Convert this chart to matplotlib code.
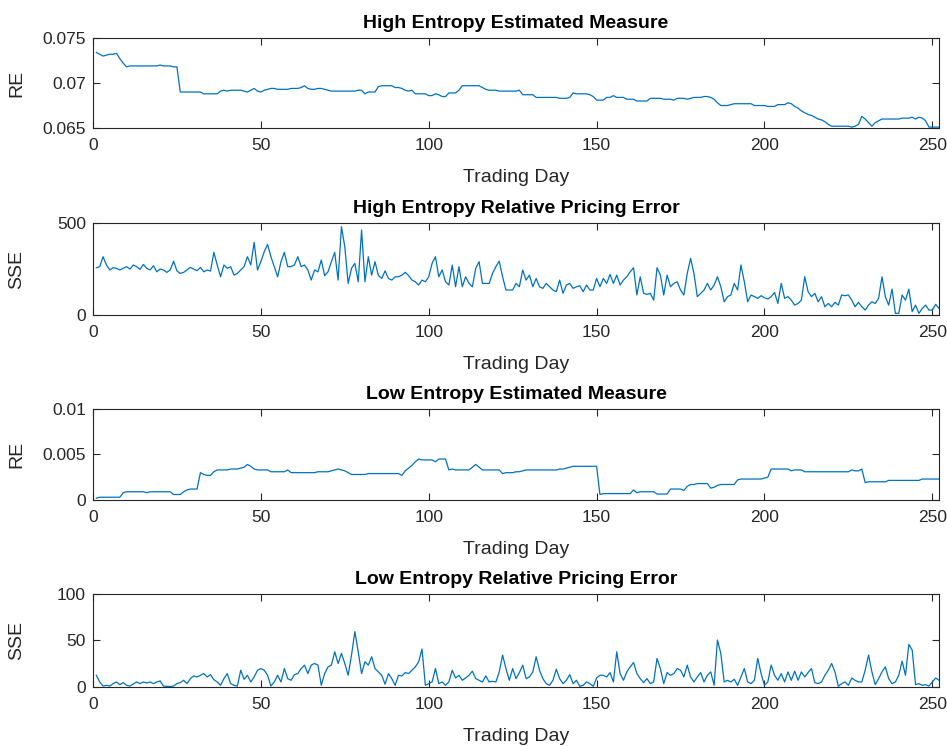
import numpy as np
import matplotlib.pyplot as plt

# High entropy: estimated measure (relative entropy) per trading day
he_re = [
    0.0734, 0.0732, 0.0730, 0.0731, 0.0732, 0.0732, 0.0733, 0.0727, 0.0722, 0.0718,
    0.0719, 0.0719, 0.0719, 0.0719, 0.0719, 0.0719, 0.0719, 0.0719, 0.0719, 0.0720,
    0.0719, 0.0719, 0.0719, 0.0718, 0.0718, 0.0690, 0.0690, 0.0690, 0.0690, 0.0690,
    0.0690, 0.0690, 0.0688, 0.0688, 0.0688, 0.0688, 0.0688, 0.0691, 0.0692, 0.0691,
    0.0692, 0.0692, 0.0692, 0.0692, 0.0691, 0.0690, 0.0692, 0.0694, 0.0691, 0.0690,
    0.0692, 0.0693, 0.0694, 0.0694, 0.0693, 0.0693, 0.0693, 0.0693, 0.0694, 0.0694,
    0.0694, 0.0695, 0.0697, 0.0694, 0.0693, 0.0693, 0.0694, 0.0694, 0.0693, 0.0692,
    0.0691, 0.0691, 0.0691, 0.0691, 0.0691, 0.0691, 0.0691, 0.0691, 0.0692, 0.0692,
    0.0688, 0.0690, 0.0690, 0.0690, 0.0696, 0.0697, 0.0697, 0.0697, 0.0697, 0.0695,
    0.0695, 0.0694, 0.0692, 0.0691, 0.0692, 0.0688, 0.0688, 0.0688, 0.0688, 0.0686,
    0.0686, 0.0688, 0.0687, 0.0685, 0.0685, 0.0689, 0.0689, 0.0689, 0.0692, 0.0697,
    0.0697, 0.0697, 0.0697, 0.0697, 0.0697, 0.0695, 0.0693, 0.0692, 0.0692, 0.0692,
    0.0691, 0.0691, 0.0691, 0.0691, 0.0691, 0.0691, 0.0692, 0.0687, 0.0687, 0.0687,
    0.0687, 0.0684, 0.0684, 0.0684, 0.0684, 0.0684, 0.0684, 0.0684, 0.0683, 0.0683,
    0.0683, 0.0684, 0.0689, 0.0688, 0.0688, 0.0688, 0.0688, 0.0687, 0.0685, 0.0681,
    0.0681, 0.0681, 0.0684, 0.0684, 0.0686, 0.0684, 0.0684, 0.0684, 0.0682, 0.0682,
    0.0682, 0.0680, 0.0680, 0.0680, 0.0680, 0.0683, 0.0683, 0.0683, 0.0683, 0.0682,
    0.0682, 0.0682, 0.0681, 0.0683, 0.0683, 0.0683, 0.0682, 0.0683, 0.0684, 0.0684,
    0.0684, 0.0685, 0.0685, 0.0684, 0.0682, 0.0678, 0.0675, 0.0675, 0.0675, 0.0676,
    0.0677, 0.0677, 0.0677, 0.0677, 0.0677, 0.0677, 0.0675, 0.0675, 0.0675, 0.0675,
    0.0674, 0.0674, 0.0674, 0.0676, 0.0676, 0.0676, 0.0678, 0.0677, 0.0674, 0.0672,
    0.0669, 0.0667, 0.0665, 0.0664, 0.0662, 0.0660, 0.0659, 0.0657, 0.0654, 0.0652,
    0.0652, 0.0652, 0.0652, 0.0652, 0.0652, 0.0651, 0.0652, 0.0654, 0.0663, 0.0660,
    0.0656, 0.0652, 0.0656, 0.0658, 0.0660, 0.0660, 0.0660, 0.0660, 0.0660, 0.0660,
    0.0661, 0.0661, 0.0661, 0.0662, 0.0660, 0.0662, 0.0661, 0.0658, 0.0651, 0.0651,
    0.0651, 0.0651,
]

# High entropy: relative pricing error (SSE)
he_sse = [
    257, 263, 317, 272, 245, 257, 254, 245, 254, 263,
    250, 272, 263, 248, 275, 254, 245, 268, 235, 250,
    245, 232, 245, 293, 240, 226, 232, 245, 259, 250,
    241, 259, 235, 245, 239, 341, 272, 208, 272, 254,
    263, 217, 226, 245, 263, 317, 272, 395, 245, 290,
    344, 384, 317, 263, 208, 290, 341, 263, 263, 272,
    317, 263, 272, 245, 190, 245, 235, 299, 214, 235,
    290, 341, 190, 480, 371, 172, 254, 281, 181, 462,
    181, 317, 217, 290, 215, 199, 240, 199, 190, 208,
    208, 217, 232, 214, 190, 181, 163, 190, 181, 208,
    281, 317, 208, 245, 181, 163, 272, 154, 263, 154,
    208, 172, 154, 254, 290, 172, 172, 172, 226, 263,
    293, 208, 136, 136, 136, 172, 154, 245, 190, 217,
    154, 199, 154, 145, 172, 154, 136, 127, 190, 118,
    163, 172, 145, 154, 159, 127, 163, 136, 136, 199,
    154, 199, 172, 221, 172, 217, 163, 190, 208, 235,
    257, 109, 208, 118, 112, 118, 81, 257, 217, 109,
    217, 154, 172, 181, 136, 109, 226, 308, 226, 100,
    118, 136, 172, 136, 163, 208, 154, 72, 100, 109,
    172, 136, 272, 181, 72, 109, 100, 91, 105, 94,
    87, 100, 123, 63, 172, 91, 100, 81, 54, 63,
    81, 208, 127, 100, 118, 72, 100, 45, 63, 45,
    69, 54, 109, 105, 109, 81, 45, 69, 45, 27,
    54, 72, 63, 91, 208, 100, 54, 141, 9, 9,
    109, 81, 141, 18, 54, 9, 36, 54, 27, 27,
    58, 36,
]

# Low entropy: estimated measure (relative entropy)
le_re = [
    0.0002, 0.0003, 0.0003, 0.0003, 0.0003, 0.0003, 0.0003, 0.0003, 0.0008, 0.0009,
    0.0009, 0.0009, 0.0009, 0.0009, 0.0009, 0.0008, 0.0009, 0.0009, 0.0009, 0.0009,
    0.0009, 0.0009, 0.0009, 0.0006, 0.0006, 0.0006, 0.0009, 0.0011, 0.0012, 0.0012,
    0.0012, 0.0030, 0.0028, 0.0027, 0.0027, 0.0031, 0.0033, 0.0033, 0.0033, 0.0033,
    0.0034, 0.0034, 0.0034, 0.0035, 0.0036, 0.0039, 0.0037, 0.0034, 0.0033, 0.0033,
    0.0033, 0.0033, 0.0031, 0.0031, 0.0031, 0.0031, 0.0031, 0.0033, 0.0030, 0.0030,
    0.0030, 0.0030, 0.0030, 0.0030, 0.0030, 0.0030, 0.0031, 0.0031, 0.0031, 0.0031,
    0.0032, 0.0033, 0.0034, 0.0033, 0.0032, 0.0030, 0.0028, 0.0028, 0.0028, 0.0028,
    0.0028, 0.0029, 0.0029, 0.0029, 0.0029, 0.0029, 0.0029, 0.0029, 0.0029, 0.0029,
    0.0029, 0.0027, 0.0032, 0.0035, 0.0038, 0.0042, 0.0045, 0.0044, 0.0044, 0.0044,
    0.0044, 0.0042, 0.0045, 0.0045, 0.0045, 0.0033, 0.0034, 0.0033, 0.0033, 0.0033,
    0.0033, 0.0033, 0.0036, 0.0039, 0.0036, 0.0033, 0.0033, 0.0033, 0.0033, 0.0033,
    0.0033, 0.0029, 0.0030, 0.0030, 0.0030, 0.0031, 0.0031, 0.0032, 0.0033, 0.0033,
    0.0033, 0.0033, 0.0033, 0.0033, 0.0033, 0.0033, 0.0033, 0.0033, 0.0034, 0.0034,
    0.0035, 0.0036, 0.0037, 0.0037, 0.0037, 0.0037, 0.0037, 0.0037, 0.0037, 0.0037,
    0.0006, 0.0007, 0.0007, 0.0007, 0.0007, 0.0007, 0.0007, 0.0007, 0.0007, 0.0007,
    0.0011, 0.0008, 0.0009, 0.0009, 0.0009, 0.0009, 0.0009, 0.00065, 0.00065, 0.00065,
    0.00065, 0.0012, 0.0012, 0.0012, 0.0012, 0.00105, 0.0015, 0.0017, 0.0017, 0.0018,
    0.0018, 0.0018, 0.0018, 0.0013, 0.0014, 0.0016, 0.0017, 0.0017, 0.0017, 0.0017,
    0.0017, 0.0022, 0.0023, 0.0023, 0.0023, 0.0023, 0.0023, 0.0023, 0.0023, 0.0024,
    0.0025, 0.0034, 0.0034, 0.0034, 0.0034, 0.0034, 0.0034, 0.0032, 0.0033, 0.0033,
    0.0033, 0.0031, 0.0031, 0.0031, 0.0031, 0.0031, 0.0031, 0.0031, 0.0031, 0.0031,
    0.0031, 0.0031, 0.0031, 0.0031, 0.0031, 0.0033, 0.0032, 0.0032, 0.0034, 0.0019,
    0.0020, 0.0020, 0.0020, 0.0020, 0.0020, 0.0020, 0.00215, 0.00215, 0.00215, 0.00215,
    0.00215, 0.00215, 0.00215, 0.00215, 0.00215, 0.00215, 0.0023, 0.0023, 0.0023, 0.0023,
    0.0023, 0.0023,
]

# Low entropy: relative pricing error (SSE)
le_sse = [
    12.6, 5.4, 1.0, 1.8, 1.0, 3.6, 5.4, 2.5, 4.7, 1.8,
    1.0, 3.2, 5.4, 3.6, 5.4, 4.3, 5.4, 3.6, 5.4, 6.5,
    1.0, 0.7, 0.5, 1.0, 3.6, 4.7, 7.2, 3.6, 9.0, 11.9,
    10.8, 12.6, 14.4, 10.8, 13.3, 7.9, 5.4, 1.8, 9.0, 14.4,
    3.6, 1.8, 1.0, 18.0, 8.3, 12.6, 5.4, 10.8, 18.0, 19.8,
    18.0, 12.6, 1.0, 5.4, 12.6, 5.4, 19.8, 9.0, 7.2, 13.3,
    14.4, 19.8, 23.5, 14.4, 23.5, 25.3, 23.5, 1.8, 14.4, 21.6,
    23.5, 37.9, 25.3, 36.1, 25.3, 12.6, 34.3, 59.5, 37.9, 14.4,
    27.1, 23.5, 32.5, 19.8, 16.2, 12.6, 3.0, 14.4, 9.0, 1.8,
    12.6, 11.9, 15.5, 14.4, 18.0, 21.6, 27.1, 40.8, 1.8, 3.6,
    5.4, 19.8, 3.6, 5.4, 1.8, 5.4, 18.0, 9.7, 12.6, 7.2,
    9.7, 12.6, 17.0, 9.0, 7.2, 5.4, 11.9, 5.4, 6.1, 5.4,
    16.2, 34.3, 19.8, 7.2, 19.8, 9.0, 15.5, 23.5, 9.0, 10.8,
    16.2, 32.5, 18.0, 9.0, 3.6, 1.8, 7.2, 19.1, 9.0, 3.6,
    7.2, 13.3, 3.6, 7.2, 0.7, 1.8, 5.4, 3.6, 0.7, 9.7,
    12.6, 12.6, 10.8, 15.5, 5.4, 37.9, 14.4, 7.2, 16.2, 21.6,
    26.3, 14.4, 9.0, 4.7, 9.0, 3.6, 5.4, 30.7, 19.8, 3.6,
    15.5, 12.6, 14.4, 19.8, 18.0, 10.8, 23.5, 10.8, 5.4, 10.8,
    15.5, 5.4, 12.6, 16.2, 1.8, 50.5, 36.1, 5.4, 7.2, 5.4,
    8.3, 1.8, 10.8, 19.8, 5.4, 3.6, 7.2, 30.7, 14.4, 1.8,
    5.4, 23.5, 12.6, 7.2, 14.4, 5.4, 16.2, 7.2, 17.0, 7.2,
    16.2, 10.8, 15.5, 19.8, 4.7, 3.6, 5.4, 12.6, 18.0, 25.3,
    16.2, 0.7, 3.6, 5.4, 1.8, 9.7, 7.2, 5.4, 5.4, 18.0,
    34.3, 16.2, 2.5, 9.0, 16.2, 21.6, 9.0, 3.6, 5.4, 12.6,
    27.8, 12.6, 45.8, 39.7, 2.5, 3.6, 1.8, 2.5, 1.0, 5.4,
    9.7, 7.2,
]

titles = ["High Entropy Estimated Measure", "High Entropy Relative Pricing Error",
          "Low Entropy Estimated Measure", "Low Entropy Relative Pricing Error"]
ylabels = ["RE", "SSE", "RE", "SSE"]
yticks = [[0.065, 0.07, 0.075], [0, 500], [0, 0.005, 0.01], [0, 50, 100]]
ytick_labels = [["0.065", "0.07", "0.075"], ["0", "500"], ["0", "0.005", "0.01"], ["0", "50", "100"]]
xticks = [0, 50, 100, 150, 200, 250]
series = [he_re, he_sse, le_re, le_sse]

plt.rcParams['font.family'] = ['Liberation Sans', 'DejaVu Sans']

fig = plt.figure(figsize=(9.47, 7.46), dpi=100)
# axes boxes in figure fraction: left, bottom, width, height
boxes = [[0.0982, 0.8284, 0.8934, 0.1206],
         [0.0982, 0.5777, 0.8934, 0.1233],
         [0.0982, 0.3298, 0.8934, 0.1220],
         [0.0982, 0.0791, 0.8934, 0.1247]]

grey = "#262626"
for i in range(4):
    ax = fig.add_axes(boxes[i])
    y = series[i]
    x = np.arange(1, len(y) + 1)
    ax.plot(x, y, color="#0072BD", linewidth=0.9)
    ax.set_xlim(0, 252)
    ax.set_ylim(yticks[i][0], yticks[i][-1])
    ax.set_xticks(xticks)
    ax.set_yticks(yticks[i])
    ax.set_yticklabels(ytick_labels[i])
    ax.tick_params(direction="in", top=True, right=True, length=5, width=0.8,
                   colors=grey, labelsize=12.5, pad=5)
    ax.tick_params(axis="x", pad=7)
    for s in ax.spines.values():
        s.set_color(grey)
        s.set_linewidth(0.8)
    ax.set_title(titles[i], fontsize=14, fontweight="bold", pad=7)
    ax.set_xlabel("Trading Day", fontsize=14, color=grey, labelpad=12)
    ax.set_ylabel(ylabels[i], fontsize=14, color=grey)
    ax.yaxis.set_label_coords(-0.08, 0.5)

plt.savefig("out.png", dpi=100)
